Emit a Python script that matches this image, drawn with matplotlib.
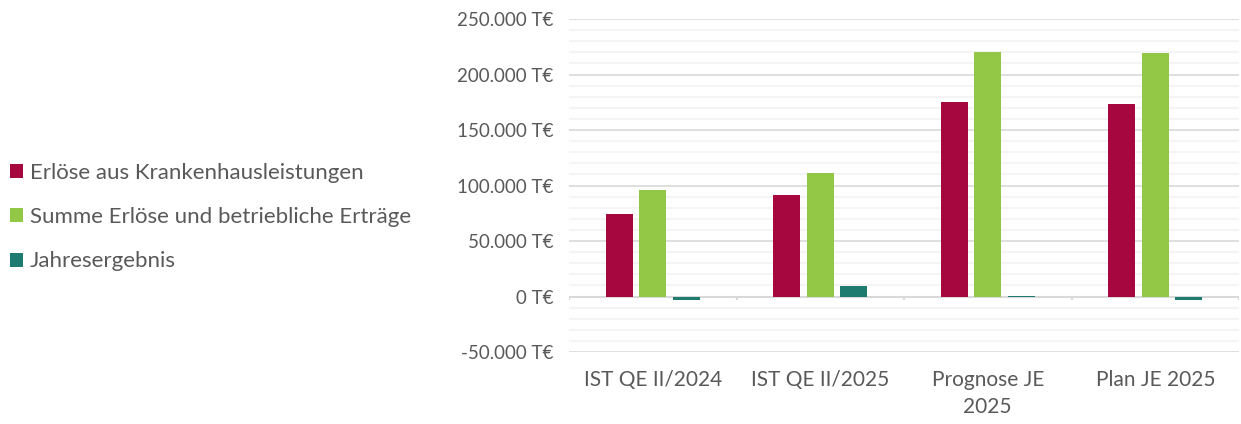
import matplotlib
matplotlib.use("Agg")
import matplotlib.pyplot as plt
import numpy as np
from matplotlib.patches import Patch

categories = ["IST QE II/2024", "IST QE II/2025", "Prognose JE\n2025", "Plan JE 2025"]
series_names = ["Erlöse aus Krankenhausleistungen",
                "Summe Erlöse und betriebliche Erträge",
                "Jahresergebnis"]
erloese_kh = [74700, 91300, 175000, 173200]
summe_erloese = [95800, 111700, 220200, 219600]
jahresergebnis = [-3600, 9900, 800, -3600]
colors = ["#A5073E", "#92C845", "#1E7B70"]
y_ticks = [-50000, 0, 50000, 100000, 150000, 200000, 250000]

def fmt(v):
    return f"{v:,.0f}".replace(",", ".") + " T€"

plt.rcParams['font.family'] = ['Lato', 'DejaVu Sans']
text_color = "#595959"

fig = plt.figure(figsize=(12.41, 4.24), dpi=100)
ax = fig.add_axes([569/1241, 1-352/424, (1239-569)/1241, (352-19)/424])

x = np.arange(len(categories))
width = 0.16
offset = 0.2
for i, (vals, c) in enumerate(zip([erloese_kh, summe_erloese, jahresergebnis], colors)):
    ax.bar(x + (i-1)*offset, vals, width, color=c, zorder=3, label=series_names[i])

ax.set_xlim(-0.5, len(categories)-0.5)
ax.set_ylim(y_ticks[0], y_ticks[-1])
ax.set_yticks(y_ticks)
ax.set_yticklabels([fmt(v) for v in y_ticks])
ax.set_yticks(np.arange(y_ticks[0], y_ticks[-1]+1, 10000), minor=True)
ax.grid(axis='y', which='minor', color='#f2f2f2', linewidth=1.2, zorder=0)
ax.grid(axis='y', which='major', color='#d9d9d9', linewidth=1.2, zorder=0)
for s in ax.spines.values():
    s.set_visible(False)
ax.tick_params(axis='y', which='both', length=0, labelsize=13.5, colors=text_color, pad=11)
ax.set_xticks(x)
ax.set_xticklabels(categories, linespacing=1.45)
ax.tick_params(axis='x', length=0, labelsize=15, colors=text_color, pad=13)

# zero axis line with category boundary ticks
ax.axhline(0, color='#d9d9d9', linewidth=1.5, zorder=2)
bounds = np.arange(len(categories)+1) - 0.5
ax.vlines(bounds, -3500, 0, color='#d9d9d9', linewidth=1.5, zorder=2)

handles = [Patch(facecolor=c, edgecolor='none') for c in colors]
leg = fig.legend(handles, series_names, loc='center left',
                 bbox_to_anchor=(0.008, 1-217/424), frameon=False,
                 fontsize=16, labelcolor=text_color, handlelength=0.6,
                 handleheight=0.6, handletextpad=0.3, labelspacing=1.1,
                 borderpad=0, borderaxespad=0)

fig.savefig("out.png", dpi=100)
